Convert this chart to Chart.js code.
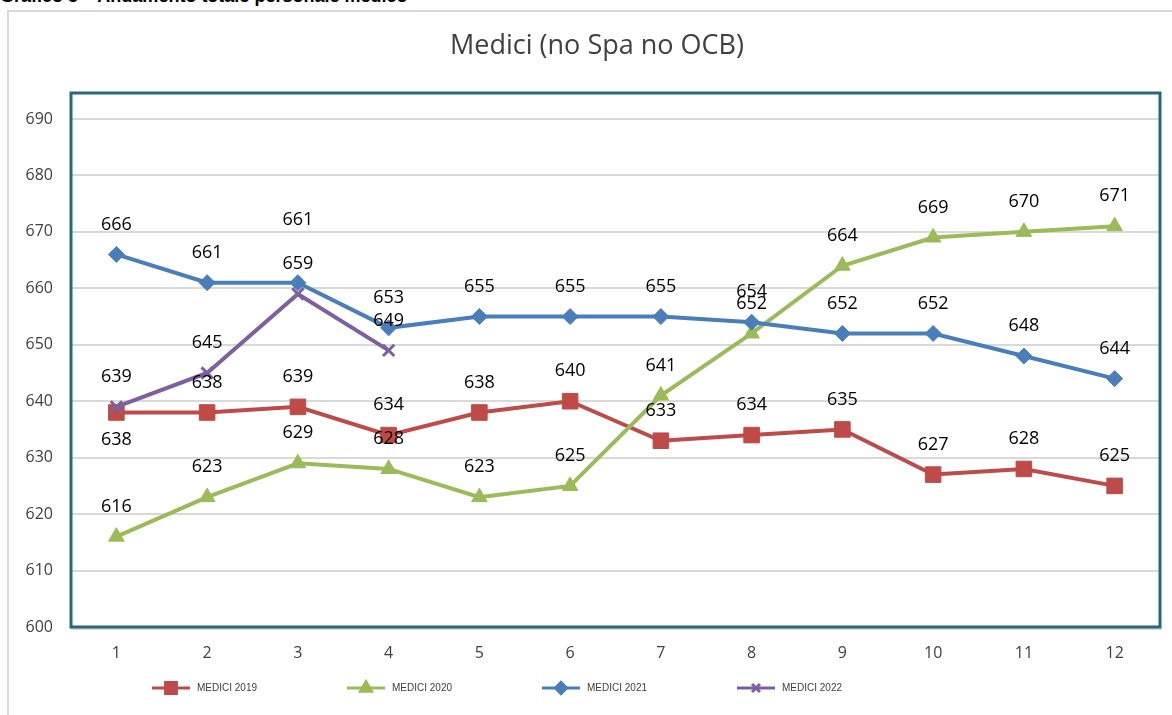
<!DOCTYPE html>
<html lang="it">
<head>
<meta charset="UTF-8">
<title>Medici (no Spa no OCB)</title>
<script src="https://cdn.jsdelivr.net/npm/chart.js"></script>
<style>
  body { margin: 0; background: #fff; }
  #wrap { position: relative; width: 1172px; height: 715px; overflow: hidden; }
  #caption {
    position: absolute; left: 0; top: -14px;
    font: bold 18px "Liberation Sans", Arial, sans-serif; color: #000;
  }
  #frame {
    position: absolute; left: 7px; top: 10px; width: 1180px; height: 720px;
    border-left: 2px solid #d9d9d9; border-top: 2px solid #d9d9d9;
  }
  #chart { position: absolute; left: 0; top: 0; }
</style>
</head>
<body>
<div id="wrap">
  <div id="caption">Grafico 3 – Andamento totale personale medico</div>
  <div id="frame"></div>
  <canvas id="chart" width="1172" height="715"></canvas>
</div>
<script>
// months
const months = ["1", "2", "3", "4", "5", "6", "7", "8", "9", "10", "11", "12"];

const medici2019 = [638, 638, 639, 634, 638, 640, 633, 634, 635, 627, 628, 625];
const medici2020 = [616, 623, 629, 628, 623, 625, 641, 652, 664, 669, 670, 671];
const medici2021 = [666, 661, 661, 653, 655, 655, 655, 654, 652, 652, 648, 644];
const medici2022 = [639, 645, 659, 649];

const seriesNames = ["MEDICI 2019", "MEDICI 2020", "MEDICI 2021", "MEDICI 2022"];

// a couple of labels sit elsewhere in the original (key = dataset:index)
const labelOffsets = { "0:0": 27, "2:2": -63 };

const labelFont = '18px "Open Sans", sans-serif';

const labelsPlugin = {
  id: 'pointLabels',
  afterDatasetsDraw(chart) {
    const ctx = chart.ctx;
    ctx.save();
    ctx.font = labelFont;
    ctx.fillStyle = '#000';
    ctx.textAlign = 'center';
    ctx.textBaseline = 'middle';
    chart.data.datasets.forEach((ds, di) => {
      const meta = chart.getDatasetMeta(di);
      meta.data.forEach((pt, i) => {
        const off = labelOffsets[di + ':' + i] ?? -30;
        ctx.fillText(ds.data[i], pt.x, pt.y + off);
      });
    });
    ctx.restore();
  }
};

const decorPlugin = {
  id: 'decor',
  beforeDatasetsDraw(chart) {
    const { ctx, chartArea: a } = chart;
    ctx.save();
    // plot border
    ctx.strokeStyle = '#d9d9d9';
    ctx.lineWidth = 2;
    ctx.beginPath();
    ctx.moveTo(a.left, a.bottom + 2);
    ctx.lineTo(a.right + 2, a.bottom + 2);
    ctx.stroke();
    ctx.strokeStyle = '#23697a';
    ctx.lineWidth = 3;
    ctx.strokeRect(a.left, a.top, a.right - a.left, a.bottom - a.top);
    ctx.restore();
  },
  afterDraw(chart) {
    const ctx = chart.ctx;
    ctx.save();
    // title
    ctx.font = '27px "Open Sans", sans-serif';
    ctx.fillStyle = '#404040';
    ctx.textAlign = 'center';
    ctx.textBaseline = 'middle';
    ctx.fillText('Medici (no Spa no OCB)', 597, 46);

    // legend: line with marker, then name
    ctx.font = '10px "Liberation Sans", sans-serif';
    ctx.textAlign = 'left';
    chart.data.datasets.forEach((ds, i) => {
      const x0 = 152 + i * 195, y = 688;
      ctx.strokeStyle = ds.borderColor;
      ctx.fillStyle = ds.borderColor;
      ctx.lineWidth = 3;
      ctx.beginPath();
      ctx.moveTo(x0, y);
      ctx.lineTo(x0 + 38, y);
      ctx.stroke();
      Chart.helpers.drawPoint(ctx, {
        pointStyle: ds.pointStyle,
        radius: ds.pointRadius * 0.7,
        borderWidth: ds.pointBorderWidth
      }, x0 + 19, y);
      ctx.fillStyle = '#404040';
      ctx.fillText(ds.label, x0 + 45, y);
    });
    ctx.restore();
  }
};

function series(label, data, color, style, radius, order) {
  return {
    label: label,
    data: data,
    borderColor: color,
    backgroundColor: color,
    pointBackgroundColor: color,
    pointBorderColor: color,
    borderWidth: 4,
    pointStyle: style,
    pointRadius: radius,
    pointBorderWidth: style === 'crossRot' ? 3 : 1,
    pointHoverRadius: radius,
    tension: 0,
    order: order
  };
}

new Chart(document.getElementById('chart'), {
  type: 'line',
  data: {
    labels: months,
    datasets: [
      series(seriesNames[0], medici2019, '#be4b48', 'rect', 11, 4),
      series(seriesNames[1], medici2020, '#9bbb59', 'triangle', 9, 3),
      series(seriesNames[2], medici2021, '#4a7ebb', 'rectRot', 8, 2),
      series(seriesNames[3], medici2022, '#7d60a0', 'crossRot', 8, 1)
    ]
  },
  options: {
    responsive: false,
    animation: false,
    layout: { padding: { left: 0, right: 7, top: 93, bottom: 0 } },
    plugins: {
      legend: { display: false },
      title: { display: false },
      tooltip: { enabled: false }
    },
    scales: {
      x: {
        offset: true,
        grid: { display: false, drawTicks: false },
        border: { display: false },
        ticks: {
          padding: 17,
          color: '#404040',
          font: { family: 'Open Sans', size: 16 }
        },
        afterFit(scale) { scale.height = 88; }
      },
      y: {
        min: 600,
        max: 694.6,
        grid: { color: '#d9d9d9', lineWidth: 2, drawTicks: false },
        border: { display: false },
        ticks: {
          stepSize: 10,
          padding: 18,
          color: '#404040',
          font: { family: 'Open Sans', size: 16 }
        },
        afterBuildTicks(scale) {
          scale.ticks = scale.ticks.filter(t => t.value % 10 === 0);
        },
        afterFit(scale) { scale.width = 71; }
      }
    }
  },
  plugins: [decorPlugin, labelsPlugin]
});
</script>
</body>
</html>
